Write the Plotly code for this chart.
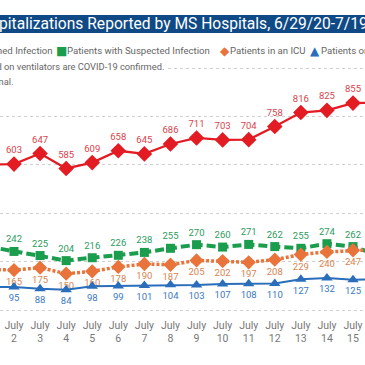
import plotly.graph_objects as go

# ---------------- data ----------------
dates = ["July 1", "July 2", "July 3", "July 4", "July 5", "July 6", "July 7", "July 8",
         "July 9", "July 10", "July 11", "July 12", "July 13", "July 14", "July 15", "July 16"]
tick_labels = [d.replace(" ", "<br>") for d in dates]

confirmed = [601, 603, 647, 585, 609, 658, 645, 686, 711, 703, 704, 758, 816, 825, 855, 857]
suspected = [262, 242, 225, 204, 216, 226, 238, 255, 270, 260, 271, 262, 255, 274, 262, 225]
icu = [168, 165, 175, 150, 160, 178, 190, 187, 205, 202, 197, 208, 229, 240, 247, 250]
ventilators = [96, 95, 88, 84, 98, 99, 101, 104, 103, 107, 108, 110, 127, 132, 125, 128]

y_grid = [0, 200, 400, 600, 800, 1000]

title_hidden = "COVID-19 Hos"
title_visible = "pitalizations Reported by MS Hospitals, 6/29/20-7/19/20"
note_text = "Note: All patients in an ICU and on ventilators are COVID-19 confirmed."
note2_text = "Data are provisional."

# ---------------- styling ----------------
W, H = 365, 365
B = 53
PLOT_H = H - B
FONT = "Roboto"

RED, RED_L = "#E31B23", "#D9434B"
GREEN, GREEN_L = "#1B9D4E", "#2E9B5E"
ORANGE, ORANGE_L = "#E8743B", "#D98350"
BLUE, BLUE_L = "#2A6EBB", "#3A78C0"
NAVY = "#0F4A86"
GRAY = "#666666"
LEG_SIZE = 9.6
TITLE_SIZE = 15.6


def px_x(p):
    return p / W


def px_y(p):
    return 1 - p / PLOT_H


fig = go.Figure()

fig.add_trace(go.Scatter(
    x=dates, y=confirmed, mode="lines+markers+text", name="Patients with Confirmed Infection",
    line=dict(color=RED, width=2.3),
    marker=dict(symbol="diamond", size=12, color=RED),
    text=[str(v) for v in confirmed], textposition="top center",
    textfont=dict(color=RED_L, size=9.5, family=FONT)))

fig.add_trace(go.Scatter(
    x=dates, y=suspected, mode="lines+markers+text", name="Patients with Suspected Infection",
    line=dict(color=GREEN, width=4, dash="9px,4px"),
    marker=dict(symbol="square", size=9, color=GREEN),
    text=[str(v) for v in suspected], textposition="top center",
    textfont=dict(color=GREEN_L, size=9.5, family=FONT)))

fig.add_trace(go.Scatter(
    x=dates, y=icu, mode="lines+markers+text", name="Patients in an ICU",
    line=dict(color=ORANGE, width=3.5, dash="3px,2px"),
    marker=dict(symbol="diamond", size=11, color=ORANGE),
    text=[str(v) for v in icu], textposition="bottom center",
    textfont=dict(color=ORANGE_L, size=9.5, family=FONT)))

fig.add_trace(go.Scatter(
    x=dates, y=ventilators, mode="lines+markers+text", name="Patients on Ventilators",
    line=dict(color=BLUE, width=2),
    marker=dict(symbol="triangle-up", size=10, color=BLUE),
    text=[str(v) for v in ventilators], textposition="bottom center",
    textfont=dict(color=BLUE_L, size=9.5, family=FONT)))

annotations = []
# title bar text
annotations.append(dict(text=title_hidden, x=px_x(-3), y=px_y(24), xref="paper", yref="paper",
                        xanchor="right", yanchor="middle", showarrow=False,
                        font=dict(color="white", size=TITLE_SIZE, family=FONT)))
annotations.append(dict(text=title_visible, x=px_x(-3), y=px_y(24), xref="paper", yref="paper",
                        xanchor="left", yanchor="middle", showarrow=False,
                        font=dict(color="white", size=TITLE_SIZE, family=FONT)))
# legend row
leg_y = px_y(51)
annotations.append(dict(text="<span style='color:%s'>◆</span> Patients with Confirmed Infection" % RED,
                        x=px_x(55), y=leg_y, xref="paper", yref="paper", xanchor="right",
                        yanchor="middle", showarrow=False, font=dict(color=GRAY, size=LEG_SIZE, family=FONT)))
for sym, col, cx, label, lx in [("■", GREEN, 61, "Patients with Suspected Infection", 65),
                                 ("◆", ORANGE, 225, "Patients in an ICU", 228),
                                 ("▲", BLUE, 315, "Patients on Ventilators", 319)]:
    annotations.append(dict(text=sym, x=px_x(cx), y=leg_y, xref="paper", yref="paper",
                            xanchor="center", yanchor="middle", showarrow=False,
                            font=dict(color=col, size=12, family="DejaVu Sans")))
    annotations.append(dict(text=label, x=px_x(lx), y=leg_y, xref="paper", yref="paper",
                            xanchor="left", yanchor="middle", showarrow=False,
                            font=dict(color=GRAY, size=LEG_SIZE, family=FONT)))
# notes
annotations.append(dict(text=note_text, x=px_x(166), y=px_y(66), xref="paper", yref="paper",
                        xanchor="right", yanchor="middle", showarrow=False, bgcolor="white",
                        font=dict(color=GRAY, size=9.3, family=FONT)))
annotations.append(dict(text=note2_text, x=px_x(15), y=px_y(82), xref="paper", yref="paper",
                        xanchor="right", yanchor="middle", showarrow=False,
                        font=dict(color=GRAY, size=9.3, family=FONT)))

fig.update_layout(
    width=W, height=H,
    margin=dict(l=0, r=0, t=0, b=B, autoexpand=False),
    paper_bgcolor="white", plot_bgcolor="white",
    showlegend=False,
    font=dict(family=FONT),
    shapes=[dict(type="rect", xref="paper", yref="paper", x0=0, x1=1,
                 y0=px_y(33), y1=px_y(15), fillcolor=NAVY, line=dict(width=0), layer="above")],
    annotations=annotations,
    xaxis=dict(type="category", range=[0.463, 14.46], showgrid=False, showline=False,
               zeroline=False, ticks="", tickmode="array", tickvals=dates, ticktext=tick_labels,
               ticklabelstandoff=5,
               tickfont=dict(color="#777777", size=10.5, family=FONT)),
    yaxis=dict(range=[-8.26, 1281], tickmode="array", tickvals=y_grid, showticklabels=False,
               showgrid=True, gridcolor="#CFCFCF", griddash="dot", gridwidth=1, zeroline=False,
               showline=False),
)

fig.write_html("out.html", config={"displayModeBar": False},
               post_script="document.body.style.margin='0';document.body.style.overflow='hidden';")
